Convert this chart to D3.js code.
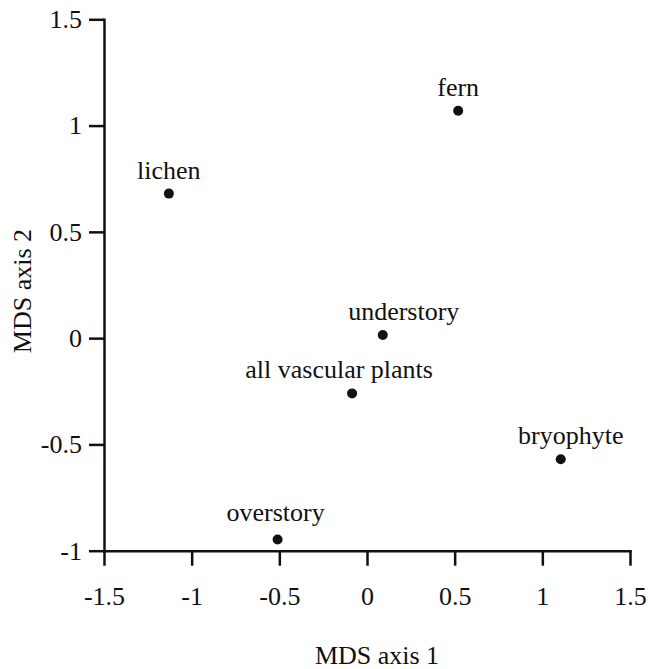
<!DOCTYPE html>
<html>
<head>
<meta charset="utf-8">
<script src="https://cdn.jsdelivr.net/npm/d3@7"></script>
<style>
  body { margin: 0; background: #fff; }
  svg text { font-family: "Liberation Serif", "Times New Roman", serif; fill: #111; }
  .axis path, .axis line { stroke: #111; stroke-width: 2.5; }
</style>
</head>
<body>
<svg width="648" height="669"></svg>
<script>
// MDS ordination scores
let groups = ["lichen", "fern", "understory", "all vascular plants", "bryophyte", "overstory"],
    axis1 = [-1.13, 0.52, 0.09, -0.085, 1.105, -0.51],
    axis2 = [0.68, 1.07, 0.015, -0.26, -0.57, -0.947];

let xTicks = [-1.5, -1, -0.5, 0, 0.5, 1, 1.5],
    yTicks = [-1, -0.5, 0, 0.5, 1, 1.5];

// label nudges so they sit like the original, not data
let nudge = {
  "understory": [21, 0],
  "all vascular plants": [-13, 0],
  "bryophyte": [10, 0],
  "overstory": [-2, -3]
};

let svg = d3.select("svg");

let x = d3.scaleLinear().domain([-1.5, 1.5]).range([104, 630]),
    y = d3.scaleLinear().domain([-1, 1.5]).range([550.7, 19.3]);

// plain hyphen minus like the original figure
let fmt = d => String(d);

svg.append("g")
    .attr("class", "axis")
    .attr("transform", "translate(0,550.7)")
    .call(d3.axisBottom(x).tickValues(xTicks).tickFormat(fmt).tickSize(15).tickSizeOuter(0).tickPadding(21))
    .attr("font-family", "Liberation Serif")
    .attr("font-size", 26);

svg.append("g")
    .attr("class", "axis")
    .attr("transform", "translate(104,0)")
    .call(d3.axisLeft(y).tickValues(yTicks).tickFormat(fmt).tickSize(15).tickSizeOuter(0).tickPadding(7))
    .attr("font-family", "Liberation Serif")
    .attr("font-size", 26);

svg.selectAll(".domain").attr("stroke-linecap", "square");

svg.append("text")
    .attr("x", 377)
    .attr("y", 664)
    .attr("text-anchor", "middle")
    .attr("font-size", 26)
    .text("MDS axis 1");

svg.append("text")
    .attr("transform", "translate(31,291) rotate(-90)")
    .attr("text-anchor", "middle")
    .attr("font-size", 26)
    .text("MDS axis 2");

let pts = svg.append("g")
  .selectAll("g")
  .data(groups)
  .join("g");

pts.append("circle")
    .attr("cx", (d, i) => x(axis1[i]))
    .attr("cy", (d, i) => y(axis2[i]))
    .attr("r", 5)
    .attr("fill", "#111");

pts.append("text")
    .attr("x", (d, i) => x(axis1[i]) + (nudge[d] ? nudge[d][0] : 0))
    .attr("y", (d, i) => y(axis2[i]) - 15 + (nudge[d] ? nudge[d][1] : 0))
    .attr("text-anchor", "middle")
    .attr("font-size", 26)
    .text(d => d);
</script>
</body>
</html>
